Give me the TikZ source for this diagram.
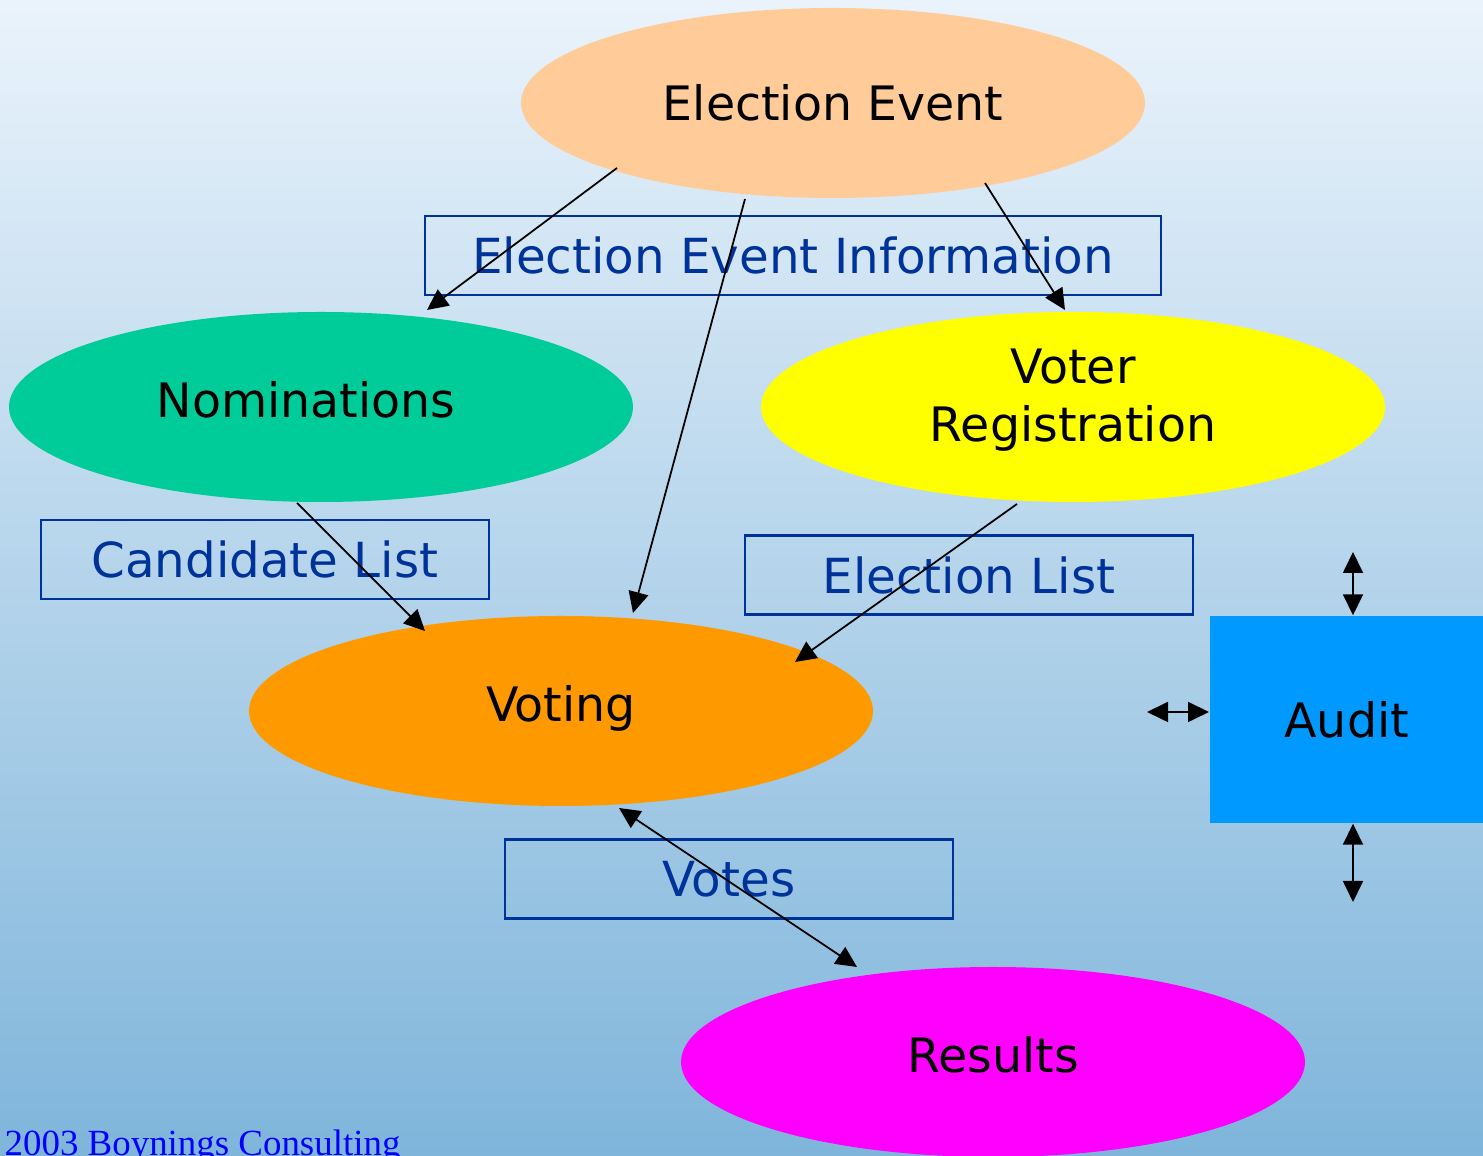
\documentclass[tikz,border=0pt]{standalone}
\usepackage{fontspec}
\setmainfont{DejaVu Sans}
\newfontfamily\footfont{Liberation Serif}
\usetikzlibrary{shapes.geometric,arrows.meta}
\definecolor{bgtop}{HTML}{EAF3FB}
\definecolor{bgbottom}{HTML}{7FB5DB}
\definecolor{peach}{HTML}{FFCC99}
\definecolor{nomgreen}{HTML}{00CC99}
\definecolor{regyellow}{HTML}{FFFF00}
\definecolor{voteorange}{HTML}{FF9900}
\definecolor{resmagenta}{HTML}{FF00FF}
\definecolor{auditblue}{HTML}{0099FF}
\definecolor{boxblue}{HTML}{003399}
\tikzset{
	stage/.style={ellipse, minimum width=6.24cm, minimum height=1.9cm, inner sep=0pt,
		font=\fontsize{13.5}{16.5}\selectfont, align=center},
	lowtext/.style={text height=0.36cm, text depth=0.14cm},
	infobox/.style={draw=boxblue, line width=0.6pt, minimum height=0.79cm, inner sep=0pt,
		text=boxblue, font=\fontsize{13.75}{16.5}\selectfont},
	flow/.style={-{Triangle[length=2.1mm,width=2mm]}, line width=0.5pt},
	twoway/.style={{Triangle[length=2.1mm,width=2mm]}-{Triangle[length=2.1mm,width=2mm]}, line width=0.5pt}
}

\begin{document}
\begin{tikzpicture}
			%%%%% START %%%%%
			
			\useasboundingbox (0, 0) rectangle (14.83, -11.56);
			\shade[top color=bgtop, bottom color=bgbottom] (0, 0) rectangle (14.83, -11.56);
			
			\node[infobox, minimum width=7.36cm] (eeinfo) at (7.93, -2.555) {Election Event Information};
			\node[infobox, minimum width=4.48cm] (candlist) at (2.65, -5.595) {Candidate List};
			\node[infobox, minimum width=4.48cm] (elist) at (9.69, -5.75) {Election List};
			\node[infobox, minimum width=4.48cm] (votes) at (7.29, -8.79) {Votes};
			
			\node[stage, fill=peach] (ee) at (8.33, -1.03) {Election Event};
			\node[stage, lowtext, fill=nomgreen] (nom) at (3.21, -4.07) {Nominations\kern0.3cm};
			\node[stage, text depth=0.23cm, fill=regyellow] (reg) at (10.73, -4.07) {Voter\\ Registration};
			\node[stage, lowtext, fill=voteorange] (vot) at (5.61, -7.11) {Voting};
			\node[stage, lowtext, fill=resmagenta] (res) at (9.93, -10.62) {Results};
			
			\node[fill=auditblue, anchor=west, minimum width=2.74cm, minimum height=2.07cm, inner sep=0pt,
				font=\fontsize{13.5}{16.5}\selectfont] (audit) at (12.09, -7.195) {Audit};
			
			\draw[flow] ([shift={(-2.16, -0.65)}]ee.center) -- ([shift={(1.06, 0.97)}]nom.center);
			\draw[flow] ([shift={(-0.88, -0.96)}]ee.center) -- ([shift={(0.72, 0.98)}]vot.center);
			\draw[flow] ([shift={(1.52, -0.80)}]ee.center) -- ([shift={(-0.08, 0.97)}]reg.center);
			\draw[flow] ([shift={(-0.24, -0.96)}]nom.center) -- ([shift={(-1.36, 0.80)}]vot.center);
			\draw[flow] ([shift={(-0.56, -0.97)}]reg.center) -- ([shift={(2.34, 0.49)}]vot.center);
			\draw[twoway] ([shift={(0.58, -0.97)}]vot.center) -- ([shift={(-1.36, 0.95)}]res.center);
			
			\coordinate (audtop) at (13.53, -5.52);
			\coordinate (audleft) at (11.47, -7.12);
			\coordinate (audbot) at (13.53, -9.02);
			\draw[twoway] (audtop) -- (audtop |- audit.north);
			\draw[twoway] (audleft) -- (audleft -| audit.west);
			\draw[twoway] (audbot) -- (audbot |- audit.south);
			
			\node[anchor=base west, inner sep=0pt, text=blue,
				font=\footfont\fontsize{10.5}{12}\selectfont] (footer) at (0.04, -11.56) {2003 Boynings Consulting};
			
			%%%%% END %%%%%
		\end{tikzpicture}
\end{document}
